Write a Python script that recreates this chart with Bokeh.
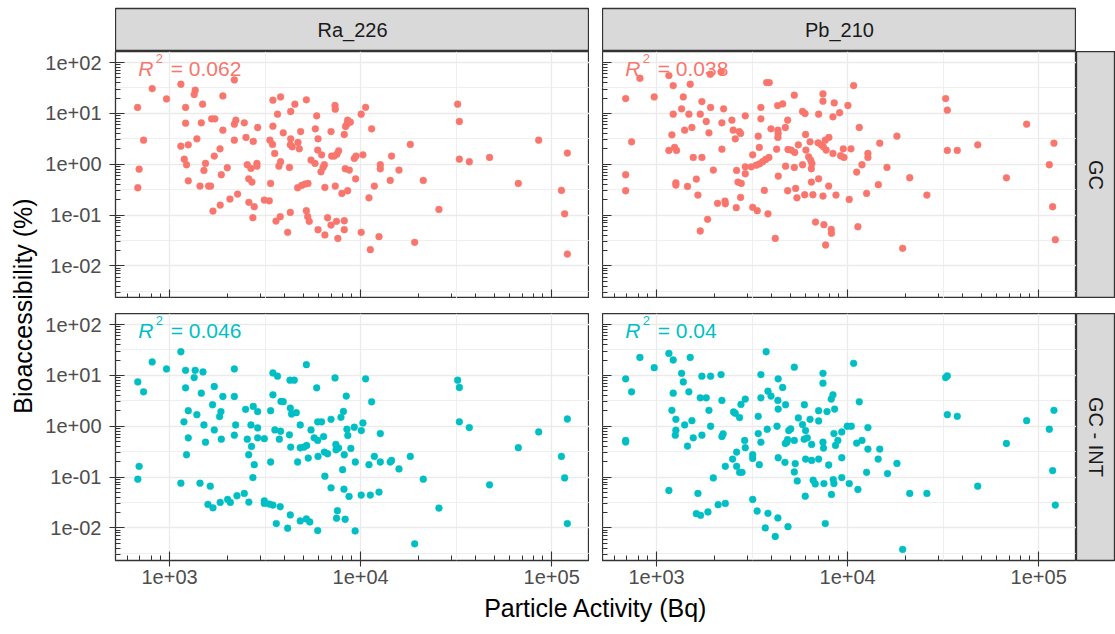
import math
from bokeh.plotting import figure
from bokeh.models import FixedTicker, CustomJSTickFormatter, Range1d, Label, Spacer
from bokeh.layouts import row, column
from bokeh.embed import file_html
from bokeh.resources import INLINE
from bokeh.core.properties import value

# ---------------- data ----------------
facet_cols = ["Ra_226", "Pb_210"]
facet_rows = ["GC", "GC - INT"]
r2_texts = {("Ra_226", "GC"): "= 0.062", ("Pb_210", "GC"): "= 0.038",
            ("Ra_226", "GC - INT"): "= 0.046", ("Pb_210", "GC - INT"): "= 0.04"}

ra_gc_activity = [680, 811, 964, 1146, 1362, 1345, 1213, 1489, 1901, 2183,
                  731, 693, 682, 1213, 1466, 1660, 1727, 2223, 2183, 2461,
                  1901, 2891, 1390, 1146, 1253, 1837, 2183, 2512, 2742, 1194,
                  1227, 1714, 1542, 1513, 2005, 1866, 1253, 1443, 1600, 1640,
                  2551, 2667, 2865, 2865, 2596, 2700, 2270, 2070, 1841, 1687,
                  2600, 2775, 2730, 3133, 3327, 3380, 3475, 3811, 4529, 5200,
                  3673, 4305, 7345, 7365, 5890, 3475, 3936, 4853, 5794, 7000,
                  8550, 8830, 8480, 8340, 8210, 3350, 3460, 3550, 4305, 4700,
                  4385, 4285, 4775, 5985, 5960, 6250, 7050, 7280, 7515, 7670,
                  3811, 3735, 4240, 5500, 5770, 6460, 6360, 6200, 8310, 8730,
                  4680, 4910, 5110, 5300, 6500, 7365, 7980, 8550, 3606, 3794,
                  4285, 5200, 5285, 5385, 4150, 5985, 6500, 6715, 7000, 7480,
                  8210, 8210, 7600, 10070, 10620, 11420, 9265, 9460, 10280, 9415,
                  14520, 12680, 12680, 15880, 14290, 11800, 11060, 18200, 21280, 25700,
                  10070, 12480, 11240, 19180, 32200, 32880, 32880, 37070, 47300, 85500,
                  120800, 66900, 112500, 116900, 120800]
ra_gc_bioacc = [13.1, 30.8, 19.3, 37.5, 28.6, 23.5, 13.1, 15.2, 22.1, 45.6,
                2.98, 0.80, 0.345, 6.43, 6.53, 7.82, 7.82, 7.36, 6.14, 6.53,
                4.69, 5.28, 3.16, 2.27, 2.41, 2.01, 2.98, 3.37, 2.81, 1.26,
                0.977, 1.45, 1.04, 0.755, 0.853, 0.621, 0.473, 0.372, 0.372, 0.372,
                0.977, 0.826, 1.04, 0.918, 0.518, 0.446, 0.259, 0.207, 0.157, 0.120,
                0.178, 0.146, 0.0887, 0.197, 0.191, 0.420, 18.2, 21.1, 15.2, 18.5,
                9.66, 10.9, 14.3, 12.1, 8.96, 5.61, 4.15, 4.40, 4.98, 4.40,
                7.36, 6.73, 6.14, 5.53, 3.85, 2.98, 2.45, 1.63, 3.16, 2.68,
                2.20, 2.41, 2.01, 3.16, 1.90, 1.53, 1.45, 1.45, 1.58, 1.84,
                1.12, 0.918, 0.865, 1.21, 1.04, 0.977, 0.865, 0.711, 0.815, 0.767,
                0.345, 0.383, 0.407, 0.420, 0.350, 0.372, 0.267, 0.301, 0.0764, 0.0929,
                0.113, 0.122, 0.0929, 0.0752, 0.0457, 0.0515, 0.0406, 0.0887, 0.0637, 0.0752,
                0.0774, 0.0515, 0.0348, 9.66, 13.2, 4.98, 1.30, 1.45, 1.53, 0.518,
                1.45, 0.977, 0.815, 0.767, 0.481, 0.372, 0.219, 2.45, 0.481, 0.129,
                0.0457, 0.0376, 0.0209, 0.0291, 15.2, 6.93, 1.26, 1.12, 1.36, 2.98,
                1.66, 0.420, 0.306, 0.106, 0.0171]

pb_gc_activity = [689, 740, 689, 689, 818, 972, 1160, 1222, 1380, 1500,
                  1910, 2183, 1352, 1222, 1476, 1727, 1918, 2243, 1693, 1820,
                  2198, 2479, 2912, 1531, 1403, 1203, 1880, 2518, 2710, 2753,
                  2582, 1160, 1242, 1272, 1556, 1727, 2198, 1982, 2624, 2912,
                  2912, 1262, 1262, 1452, 1615, 1646, 2667, 2775, 2753, 2085,
                  2280, 2290, 2613, 1849, 1693, 3185, 3365, 3829, 4180, 3665,
                  3185, 3405, 3450, 3133, 3327, 3460, 3590, 3725, 3873, 3767,
                  3890, 3517, 3517, 3971, 4305, 4571, 5260, 4853, 4720, 4315,
                  4330, 4315, 4250, 4735, 4335, 4875, 5070, 5285, 5520, 6025,
                  5808, 5985, 6360, 6050, 6250, 6400, 6500, 5808, 6460, 5260,
                  7050, 7430, 7430, 8510, 8380, 7000, 7280, 7460, 7640, 7980,
                  7720, 8380, 7050, 6460, 4853, 5345, 5430, 5960, 6580, 7430,
                  7960, 8690, 6790, 7515, 8210, 8230, 7670, 10040, 10750, 9080,
                  11510, 9490, 10410, 9190, 9570, 10200, 12770, 12770, 14730, 11890,
                  11150, 16070, 14480, 12570, 18120, 21140, 26000, 11320, 19410, 32580,
                  33260, 33260, 37500, 47970, 86500, 120200, 67800, 113700, 118300, 122200]
pb_gc_bioacc = [19.6, 2.76, 0.621, 0.301, 49.2, 21.1, 55.6, 35.3, 21.1, 37.5,
                59.0, 66.6, 12.3, 9.66, 9.66, 17.1, 13.1, 12.3, 9.66, 6.93,
                6.53, 7.36, 8.96, 5.28, 4.69, 3.79, 4.15, 4.69, 4.40, 4.03,
                3.16, 1.87, 2.14, 1.87, 1.36, 1.36, 1.98, 0.767, 0.755, 0.891,
                0.650, 0.432, 0.389, 0.366, 0.510, 0.248, 0.446, 0.420, 0.223, 0.170,
                0.189, 0.167, 0.140, 0.0824, 0.0486, 0.142, 0.122, 0.106, 0.0348, 0.306,
                1.53, 3.57, 2.14, 0.891, 0.961, 1.02, 1.12, 1.24, 1.36, 40.5,
                40.5, 13.1, 7.82, 4.98, 14.3, 15.4, 22.8, 7.36, 5.28, 4.69,
                4.03, 3.37, 1.98, 0.918, 0.585, 1.95, 1.90, 1.71, 2.41, 3.85,
                10.9, 9.95, 2.76, 1.90, 1.40, 1.21, 1.04, 0.977, 0.815, 0.865,
                9.66, 24.2, 17.4, 16.1, 8.57, 2.64, 2.41, 2.20, 2.98, 3.37,
                1.90, 1.63, 0.518, 0.446, 0.301, 0.335, 0.219, 0.251, 0.251, 0.237,
                0.372, 0.248, 0.0729, 0.0647, 0.0524, 0.0438, 0.0258, 14.3, 35.3, 10.3,
                5.28, 2.01, 2.01, 1.47, 1.36, 0.203, 1.63, 1.36, 2.60, 0.977,
                0.700, 0.865, 0.396, 0.267, 3.57, 0.542, 0.248, 0.0590, 0.0222, 19.6,
                11.6, 1.87, 1.87, 2.41, 6.14, 2.60, 0.542, 0.977, 0.146, 0.0328]

ra_int_activity = [682, 731, 693, 682, 811, 964, 1146, 1213, 1362, 1345,
                   1496, 1213, 1466, 1714, 1901, 2183, 2183, 1253, 1390, 1189,
                   1679, 1857, 1827, 1513, 1714, 1253, 1542, 1866, 2217, 2183,
                   1227, 1146, 1443, 1633, 1588, 1687, 1841, 2013, 2080, 2253,
                   2461, 2600, 2500, 2742, 2891, 2667, 2891, 2551, 2685, 2891,
                   3133, 2596, 2775, 2730, 3133, 3133, 3327, 3475, 3794, 3380,
                   3380, 3475, 3673, 3475, 3829, 3936, 3558, 3811, 3755, 4240,
                   4305, 4270, 4495, 5200, 5890, 7345, 8410, 4285, 4350, 4605,
                   4830, 5500, 5960, 6250, 5715, 5960, 6400, 7000, 7890, 8130,
                   8480, 8570, 8890, 7420, 7440, 7670, 6460, 6715, 5985, 5320,
                   4680, 4830, 5060, 5220, 8210, 9380, 8050, 6500, 7000, 8180,
                   8700, 7560, 7480, 8300, 4285, 3620, 4150, 4830, 5200, 5420,
                   5960, 9360, 10620, 11420, 9265, 10280, 10080, 12680, 11800, 11060,
                   12680, 14290, 14520, 15880, 18200, 21280, 10070, 11240, 12480, 25700,
                   19180, 32200, 32880, 32880, 37070, 47300, 66900, 85500, 120800, 112500,
                   116900, 120800]
ra_int_bioacc = [7.46, 4.76, 0.163, 0.0908, 18.4, 13.4, 29.2, 12.6, 12.6, 9.08,
                 11.7, 5.70, 4.48, 6.05, 3.85, 13.4, 3.85, 2.02, 1.69, 1.22,
                 2.65, 1.94, 1.55, 1.06, 0.847, 0.592, 0.486, 0.557, 1.06, 0.667,
                 0.275, 0.0757, 0.0757, 0.0662, 0.0290, 0.0249, 0.0318, 0.0363, 0.0318, 0.0429,
                 0.0476, 0.0322, 2.15, 2.46, 1.94, 1.06, 0.927, 0.557, 0.401, 0.592,
                 0.570, 0.275, 0.175, 0.0977, 0.0342, 0.0303, 0.0295, 0.0282, 0.0261, 0.198,
                 2.02, 11.2, 9.64, 4.16, 3.08, 3.05, 0.847, 0.798, 0.557, 0.678,
                 0.389, 8.05, 8.05, 16.3, 5.70, 8.93, 3.92, 2.28, 1.74, 1.85,
                 1.06, 0.847, 1.22, 1.22, 0.592, 0.525, 0.628, 1.37, 1.50, 1.96,
                 0.873, 0.658, 0.367, 0.439, 0.344, 0.372, 0.310, 0.288, 0.255, 0.237,
                 0.198, 0.378, 0.389, 0.419, 0.275, 0.198, 0.140, 0.104, 0.0614, 0.0578,
                 0.0416, 0.0218, 0.0155, 0.0148, 0.0180, 0.0122, 0.00984, 0.0137, 0.0150, 0.0131,
                 0.00887, 0.00873, 8.55, 3.03, 0.955, 1.16, 0.822, 0.719, 0.255, 0.175,
                 0.198, 0.198, 0.213, 0.145, 0.255, 0.0908, 0.0442, 0.0442, 0.0506, 0.0246,
                 0.00486, 8.05, 5.78, 1.22, 0.942, 0.0703, 0.378, 0.774, 1.39, 0.255,
                 0.0964, 0.0122]

pb_int_activity = [689, 740, 689, 689, 818, 972, 1160, 1222, 1500, 1352,
                   1380, 1222, 1476, 1727, 1918, 2175, 1693, 1820, 1880, 2198,
                   1203, 1262, 1531, 1403, 1262, 1253, 1556, 1452, 1727, 1918,
                   2198, 2230, 1160, 1646, 1615, 1700, 1857, 2100, 2290, 1982,
                   2290, 2500, 2624, 2624, 2720, 2800, 2891, 2912, 3185, 3185,
                   3450, 2530, 2582, 2720, 2765, 2912, 3185, 3360, 3705, 3829,
                   4180, 4315, 4875, 3517, 3745, 3517, 3405, 3405, 3517, 3794,
                   3829, 3971, 4330, 4571, 4315, 4330, 4735, 4270, 4330, 4720,
                   4810, 4920, 5035, 4850, 5260, 4700, 5320, 5260, 5450, 5260,
                   5940, 5520, 5808, 6025, 6150, 5925, 6360, 6480, 6025, 6480,
                   7050, 7050, 7050, 7430, 7430, 8210, 8380, 7800, 8550, 8480,
                   9320, 7430, 7480, 8640, 8890, 7960, 6600, 6770, 7515, 8410,
                   8480, 8230, 6000, 7640, 9320, 9320, 10750, 11510, 9960, 10450,
                   12770, 11150, 11890, 12770, 14730, 14450, 18120, 12570, 16170, 10200,
                   11320, 21140, 26000, 19410, 32580, 33260, 33260, 37500, 47970, 67800,
                   86500, 120200, 113700, 118300, 122200]
pb_int_bioacc = [8.55, 4.76, 0.525, 0.49, 22.6, 14.2, 27.1, 20.1, 22.6, 11.0,
                 7.46, 4.48, 4.76, 9.64, 9.64, 10.4, 3.63, 3.63, 2.06, 3.22,
                 2.06, 1.37, 1.29, 1.06, 0.836, 0.667, 0.592, 0.407, 0.667, 1.0,
                 0.628, 0.708, 0.0545, 0.0476, 0.0191, 0.0177, 0.0206, 0.0286, 0.0303, 0.0964,
                 0.163, 0.226, 0.310, 0.163, 0.124, 0.124, 0.525, 0.378, 0.275, 0.233,
                 0.175, 1.91, 1.80, 1.48, 2.69, 3.42, 0.0363, 0.0215, 0.0100, 0.0194,
                 0.00678, 0.0157, 0.0106, 10.4, 29.2, 3.63, 1.57, 0.719, 0.486, 0.873,
                 4.90, 3.92, 8.55, 5.78, 3.22, 2.18, 2.65, 1.0, 0.240, 0.458,
                 0.486, 0.822, 0.887, 0.548, 0.525, 0.195, 0.184, 0.126, 0.0841, 14.5,
                 2.65, 1.46, 1.08, 0.822, 0.592, 0.557, 1.37, 0.439, 0.226, 0.213,
                 0.226, 2.02, 1.27, 11.0, 7.03, 3.42, 4.16, 1.94, 2.18, 0.719,
                 0.774, 0.486, 0.372, 0.419, 0.525, 0.173, 0.0867, 0.0734, 0.0746, 0.0893,
                 0.0746, 0.0455, 0.0421, 0.0122, 0.240, 0.0977, 17.3, 3.03, 1.0, 1.0,
                 0.942, 0.466, 0.525, 0.355, 0.355, 0.226, 0.186, 0.124, 0.117, 0.0746,
                 0.0570, 0.0476, 0.0476, 0.00378, 9.08, 9.77, 1.69, 1.57, 0.0662, 0.458,
                 1.29, 2.06, 0.873, 0.134, 0.0282]

x_major_ticks = [1e3, 1e4, 1e5]
y_major_ticks = [1e-2, 1e-1, 1e0, 1e1, 1e2]

# ---------------- style ----------------
FONT = "Liberation Sans"
RED, CYAN = "#F8766D", "#00BFC4"
DARK = "#333333"
LOGX = (2.717, 5.198)
LOGY = (-2.641, 2.218)

x_minor_ticks = [m * 10 ** d for d in range(2, 6) for m in range(2, 10)]
y_minor_ticks = [m * 10 ** d for d in range(-3, 3) for m in range(2, 10)]
x_grid_minor = [10 ** (d + 0.5) for d in range(2, 6)]
y_grid_minor = [10 ** (d + 0.5) for d in range(-3, 3)]

fmt_js = """
const e = Math.round(Math.log10(tick));
const a = Math.abs(e);
return "1e" + (e < 0 ? "-" : "+") + (a < 10 ? "0" + a : "" + a);
"""


def style_axis(ax, labels, major_ticks, minor_ticks):
    ax.ticker = FixedTicker(ticks=major_ticks, minor_ticks=minor_ticks)
    ax.axis_line_color = None
    ax.major_tick_line_color = DARK
    ax.minor_tick_line_color = DARK
    ax.major_tick_line_width = 1.1
    ax.minor_tick_line_width = 1.0
    ax.major_tick_in = 9
    ax.minor_tick_in = 5
    ax.minor_tick_out = 0
    if labels:
        ax.major_tick_out = 6
        ax.formatter = CustomJSTickFormatter(code=fmt_js)
        ax.major_label_text_font_size = "20px"
        ax.major_label_text_color = "#4D4D4D"
        ax.major_label_text_font = FONT
    else:
        ax.major_tick_out = 0
        ax.formatter = CustomJSTickFormatter(code="return '';")
        ax.major_label_text_font_size = "0px"
        ax.major_label_standoff = 0


def panel(xs, ys, color, r2, width, height, border_left, border_bottom, xlabels, ylabels):
    p = figure(width=width, height=height, x_axis_type="log", y_axis_type="log",
               x_range=Range1d(10 ** LOGX[0], 10 ** LOGX[1]),
               y_range=Range1d(10 ** LOGY[0], 10 ** LOGY[1]),
               output_backend="svg", toolbar_location=None,
               min_border_left=border_left, min_border_right=0,
               min_border_top=0, min_border_bottom=border_bottom)
    p.background_fill_color = "white"
    p.border_fill_color = "white"
    p.outline_line_color = DARK
    p.outline_line_width = 1.3
    style_axis(p.xaxis[0], xlabels, x_major_ticks, x_minor_ticks)
    style_axis(p.yaxis[0], ylabels, y_major_ticks, y_minor_ticks)
    if xlabels:
        p.xaxis[0].major_label_standoff = 3
    if ylabels:
        p.yaxis[0].major_label_standoff = 8
    p.xgrid[0].ticker = FixedTicker(ticks=x_major_ticks, minor_ticks=x_grid_minor)
    p.ygrid[0].ticker = FixedTicker(ticks=y_major_ticks, minor_ticks=y_grid_minor)
    for g in (p.xgrid[0], p.ygrid[0]):
        g.grid_line_color = "#EBEBEB"
        g.grid_line_width = 1.3
        g.minor_grid_line_color = "#EBEBEB"
        g.minor_grid_line_width = 0.8
    p.scatter(x=xs, y=ys, size=6.8, marker="circle", fill_color=color, line_color=color, line_width=0.5)

    lx = 10 ** (LOGX[0] + (22.7 / 474) * (LOGX[1] - LOGX[0]))
    ly = 10 ** (LOGY[1] - (17.0 / 247) * (LOGY[1] - LOGY[0]))
    common = dict(x=lx, y=ly, text_color=color, text_baseline="middle", text_align="left",
                  text_font=FONT)
    p.add_layout(Label(text="R", text_font_style="italic", text_font_size="21px", **common))
    p.add_layout(Label(text="2", text_font_size="13px", x_offset=17.5, y_offset=10, **common))
    p.add_layout(Label(text=r2, text_font_size="21px", x_offset=32.5, **common))
    return p


def strip(text, width, height, border_top=0, border_bottom=0, vertical=False):
    s = figure(width=width, height=height, x_axis_type=None, y_axis_type=None,
               x_range=Range1d(0, 1), y_range=Range1d(0, 1),
               output_backend="svg", toolbar_location=None,
               min_border_left=0, min_border_right=0,
               min_border_top=border_top, min_border_bottom=border_bottom)
    s.grid.visible = False
    s.background_fill_color = "#D9D9D9"
    s.border_fill_color = "white"
    s.outline_line_color = DARK
    s.outline_line_width = 1.3
    s.text(x=[0.5], y=[0.5], text=[text], angle=(-math.pi / 2 if vertical else 0),
           text_align="center", text_baseline="middle", text_font_size="20px",
           text_color="#1A1A1A", text_font=value(FONT))
    return s


def title_fig(text, width, height, tx, ty, angle):
    t = figure(width=width, height=height, x_axis_type=None, y_axis_type=None,
               x_range=Range1d(0, width), y_range=Range1d(0, height),
               output_backend="svg", toolbar_location=None,
               min_border=0, min_border_left=0, min_border_right=0,
               min_border_top=0, min_border_bottom=0)
    t.grid.visible = False
    t.outline_line_color = None
    t.background_fill_color = "white"
    t.border_fill_color = "white"
    t.text(x=[tx], y=[ty], text=[text], angle=angle, text_align="center",
           text_baseline="middle", text_font_size="25px", text_color="black",
           text_font=value(FONT))
    return t


PW = 474
LB = 75
BB = 33            # bottom border of the lower panels (ticks + tick labels)
BOT_H = 247 + BB
XT_H = 634 - 51 - 247 - 15 - BOT_H

TL = panel(ra_gc_activity, ra_gc_bioacc, RED, r2_texts[("Ra_226", "GC")], LB + PW, 247, LB, 0, False, True)
TR = panel(pb_gc_activity, pb_gc_bioacc, RED, r2_texts[("Pb_210", "GC")], PW, 247, 0, 0, False, False)
BL = panel(ra_int_activity, ra_int_bioacc, CYAN, r2_texts[("Ra_226", "GC - INT")], LB + PW, BOT_H, LB, BB, True, True)
BR = panel(pb_int_activity, pb_int_bioacc, CYAN, r2_texts[("Pb_210", "GC - INT")], PW, BOT_H, 0, BB, True, False)

strip_ra = strip(facet_cols[0], PW, 51, border_top=8)
strip_pb = strip(facet_cols[1], PW, 51, border_top=8)
strip_gc = strip(facet_rows[0], 39, 247, vertical=True)
strip_int = strip(facet_rows[1], 39, BOT_H, border_bottom=BB, vertical=True)

ytitle = title_fig("Bioaccessibility (%)", 40, 634, 22, 634 - 305.5, math.pi / 2)
xtitle = title_fig("Particle Activity (Bq)", 1075, XT_H, 595.5 - 40, 634 - 607, 0)

layout = row(
    ytitle,
    column(
        row(Spacer(width=LB, height=51), strip_ra, Spacer(width=13, height=51), strip_pb, Spacer(width=39, height=51)),
        row(TL, Spacer(width=13, height=247), TR, strip_gc),
        Spacer(width=1075, height=15),
        row(BL, Spacer(width=13, height=BOT_H), BR, strip_int),
        xtitle,
    ),
)

open("out.html", "w").write(file_html(layout, INLINE))
